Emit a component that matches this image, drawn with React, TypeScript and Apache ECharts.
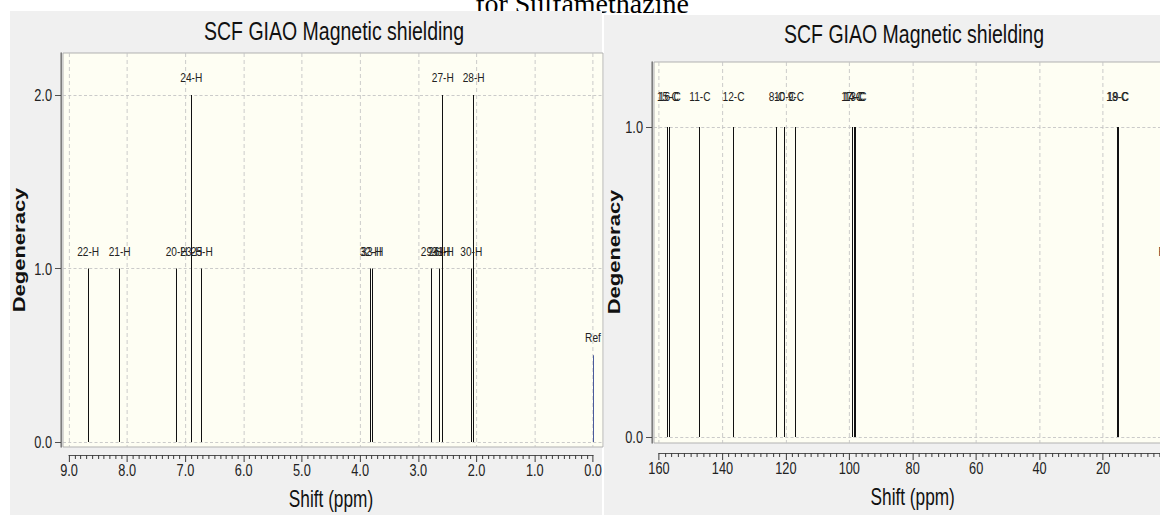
import React, { useEffect, useRef } from 'react';
import * as echarts from 'echarts';

const PAGE_TITLE = 'for Sulfamethazine';
const PANEL_TITLE = 'SCF GIAO Magnetic shielding';
const Y_NAME = 'Degeneracy';
const X_NAME = 'Shift (ppm)';

// 1H panel
const hShift = [8.67, 8.13, 7.15, 6.9, 6.72, 3.82, 3.79, 2.77, 2.64, 2.58, 2.09, 2.05, 0.0];
const hDegeneracy = [1, 1, 1, 2, 1, 1, 1, 1, 1, 2, 1, 2, 0.5];
const hLabel = ['22-H', '21-H', '20-H', '24-H', '25-H', '32-H', '33-H', '29-H', '26-H', '27-H', '30-H', '28-H', 'Ref'];
const hInnerShift = [6.9, 2.58];
const hInnerLevel = [1, 1];
const hInnerLabel = ['23-H', '31-H'];
const hTickValues = [0, 1, 2];

// 13C panel
const cShift = [157.2, 156.6, 147.1, 136.5, 122.8, 120.3, 116.8, 99.1, 98.5, 98.0, 15.5, 15.2, 0.0];
const cDegeneracy = [1, 1, 1, 1, 1, 1, 1, 1, 1, 1, 1, 1, 0.5];
const cLabel = ['15-C', '16-C', '11-C', '12-C', '8-C', '10-C', '9-C', '17-C', '14-C', '13-C', '18-C', '19-C', 'Ref'];
const cTickValues = [0, 1];

// the reference screenshot is horizontally condensed; the chart is drawn wide and squeezed
const SQUEEZE = 0.75;
const X = (pageX: number) => pageX / SQUEEZE;
const VLINE = 1 / SQUEEZE;

const FONT = "'Liberation Sans', Arial, sans-serif";
const LABEL_LIFT = 0.1;

function crisp(chartX: number) {
  return (Math.round(chartX * SQUEEZE - 0.5) + 0.5) / SQUEEZE;
}

function lineSeries(xi: number, shifts: number[], heights: number[], labels: string[]) {
  return {
    type: 'custom',
    xAxisIndex: xi,
    yAxisIndex: xi,
    clip: false,
    data: shifts.map((s, i) => [s, heights[i]]),
    renderItem: (params: any, api: any) => {
      const x = api.value(0);
      const h = api.value(1);
      const p0 = api.coord([x, 0]);
      const p1 = api.coord([x, h]);
      const px = crisp(p0[0]);
      const isRef = labels[params.dataIndex] === 'Ref';
      return {
        type: 'line',
        shape: { x1: px, y1: p0[1], x2: px, y2: p1[1] },
        style: { stroke: isRef ? '#4a5a9c' : '#111', lineWidth: VLINE },
      };
    },
  };
}

function labelSeries(xi: number, shifts: number[], levels: number[], labels: string[]) {
  return {
    type: 'custom',
    xAxisIndex: xi,
    yAxisIndex: xi,
    clip: false,
    data: shifts.map((s, i) => [s, levels[i] + LABEL_LIFT]),
    renderItem: (params: any, api: any) => {
      const p = api.coord([api.value(0), api.value(1)]);
      return {
        type: 'text',
        x: p[0],
        y: p[1],
        style: {
          text: labels[params.dataIndex],
          font: `13.5px ${FONT}`,
          fill: '#222',
          align: 'center',
          verticalAlign: 'middle',
        },
      };
    },
  };
}

const axisColor = '#3a3a3a';
const gridLine = { show: true, lineStyle: { color: '#c4c4c4', type: [4, 3], width: 1 } };

function frameY(gi: number, min: number, max: number, ticks: number[]) {
  return {
    gridIndex: gi,
    type: 'value',
    min,
    max,
    offset: 2 / SQUEEZE,
    axisLine: { show: true, onZero: false, lineStyle: { color: axisColor, width: VLINE } },
    axisTick: { show: true, length: 6 / SQUEEZE, customValues: ticks, lineStyle: { color: axisColor } },
    axisLabel: {
      customValues: ticks,
      formatter: (v: number) => v.toFixed(1),
      margin: 9 / SQUEEZE,
      fontSize: 17,
      fontFamily: FONT,
      color: '#222',
    },
    splitLine: gridLine,
  };
}

function dataX(gi: number, max: number, step: number, offset: number, digits: number) {
  return {
    gridIndex: gi,
    type: 'value',
    min: 0,
    max,
    interval: step,
    inverse: true,
    position: 'bottom',
    offset,
    axisLine: { show: true, onZero: false, lineStyle: { color: axisColor, width: 1 } },
    axisTick: { show: true, length: 7, lineStyle: { color: axisColor, width: VLINE } },
    minorTick: { show: true, splitNumber: 10, length: 4, lineStyle: { color: axisColor, width: VLINE } },
    axisLabel: {
      formatter: (v: number) => v.toFixed(digits),
      margin: 6,
      fontSize: 17,
      fontFamily: FONT,
      color: '#222',
    },
    splitLine: gridLine,
    name: X_NAME,
    nameLocation: 'middle',
    nameGap: 33,
    nameTextStyle: { fontSize: 23, fontFamily: FONT, color: '#111' },
  };
}

export default function App() {
  const ref = useRef<HTMLDivElement>(null);
  useEffect(() => {
    if (!ref.current) return;
    const chart = echarts.init(ref.current, undefined, { renderer: 'svg' });
    const hMin = -0.029, hMax = 2.242;
    const cMin = -0.0194, cMax = 1.2097;
    const frame = { show: true, backgroundColor: '#fefef3', borderColor: '#a8a8a8', borderWidth: 1, outerBoundsMode: 'none', containLabel: false };
    const plain = { show: false, outerBoundsMode: 'none', containLabel: false };
    const option: any = {
      animation: false,
      backgroundColor: '#ffffff',
      grid: [
        { ...frame, left: X(63), top: 53, width: X(540), height: 394 },
        { ...plain, left: X(69), top: 53, width: X(524), height: 394 },
        { ...frame, left: X(654), top: 62, width: X(520), height: 381 },
        { ...plain, left: X(659), top: 62, width: X(507.4), height: 381 },
      ],
      xAxis: [
        { gridIndex: 0, type: 'value', min: 0, max: 1, show: false },
        dataX(1, 9, 1, 8, 1),
        { gridIndex: 2, type: 'value', min: 0, max: 1, show: false },
        dataX(3, 160, 20, 10, 0),
      ],
      yAxis: [
        frameY(0, hMin, hMax, hTickValues),
        { gridIndex: 1, type: 'value', min: hMin, max: hMax, show: false },
        frameY(2, cMin, cMax, cTickValues),
        { gridIndex: 3, type: 'value', min: cMin, max: cMax, show: false },
      ],
      graphic: [
        { type: 'text', z: -10, x: X(582), y: 3, scaleX: 1 / SQUEEZE, style: { text: PAGE_TITLE, font: '28px "Liberation Serif", "Times New Roman", serif', fill: '#000', align: 'center', verticalAlign: 'middle' } },
        { type: 'rect', z: -9, shape: { x: X(10), y: 11, width: X(592), height: 504 }, style: { fill: '#f0f0f0' } },
        { type: 'rect', z: -9, shape: { x: X(604), y: 15, width: X(556), height: 500 }, style: { fill: '#f0f0f0' } },
        { type: 'text', z: 10, x: X(334), y: 31, style: { text: PANEL_TITLE, font: `26px ${FONT}`, fill: '#111', align: 'center', verticalAlign: 'middle' } },
        { type: 'text', z: 10, x: X(914), y: 34, style: { text: PANEL_TITLE, font: `26px ${FONT}`, fill: '#111', align: 'center', verticalAlign: 'middle' } },
        { type: 'text', z: 10, x: X(19), y: 250, rotation: Math.PI / 2, style: { text: Y_NAME, font: `bold 22px ${FONT}`, fill: '#111', align: 'center', verticalAlign: 'middle' } },
        { type: 'text', z: 10, x: X(614), y: 252, rotation: Math.PI / 2, style: { text: Y_NAME, font: `bold 22px ${FONT}`, fill: '#111', align: 'center', verticalAlign: 'middle' } },
      ],
      series: [
        lineSeries(1, hShift, hDegeneracy, hLabel),
        labelSeries(1, hShift, hDegeneracy, hLabel),
        labelSeries(1, hInnerShift, hInnerLevel, hInnerLabel),
        lineSeries(3, cShift, cDegeneracy, cLabel),
        labelSeries(3, cShift, cDegeneracy, cLabel),
      ],
    };
    chart.setOption(option);
    return () => chart.dispose();
  }, []);
  return (
    <div style={{ position: 'fixed', left: 0, top: 0, width: 1160, height: 515, overflow: 'hidden', background: '#fff' }}>
      <div
        ref={ref}
        style={{ width: 1160 / SQUEEZE, height: 515, transform: `scaleX(${SQUEEZE})`, transformOrigin: '0 0' }}
      />
    </div>
  );
}
